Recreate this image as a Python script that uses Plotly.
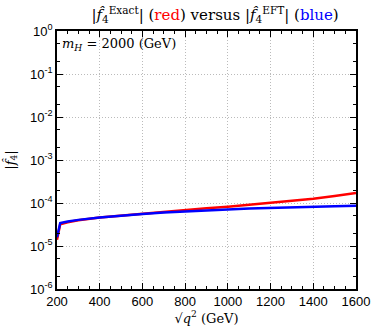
import plotly.graph_objects as go

q = [200, 215, 250, 300, 400, 500, 600, 700, 800, 900, 1000, 1100, 1200, 1300, 1400, 1500, 1600]
f4_exact = [1.4e-5, 3.2e-5, 3.55e-5, 3.95e-5, 4.6e-5, 5.1e-5, 5.6e-5, 6.2e-5, 6.8e-5, 7.5e-5,
            8.2e-5, 9.1e-5, 1.01e-4, 1.12e-4, 1.26e-4, 1.45e-4, 1.7e-4]
f4_eft = [1.6e-5, 3.4e-5, 3.7e-5, 4.05e-5, 4.6e-5, 5.1e-5, 5.55e-5, 6.0e-5, 6.4e-5, 6.8e-5,
          7.1e-5, 7.4e-5, 7.7e-5, 7.9e-5, 8.1e-5, 8.4e-5, 8.6e-5]
x_ticks = [200, 400, 600, 800, 1000, 1200, 1400, 1600]
y_ticks = [1e-6, 1e-5, 1e-4, 1e-3, 1e-2, 1e-1, 1]
y_ticktext = ["10<sup>-6</sup>", "10<sup>-5</sup>", "10<sup>-4</sup>", "10<sup>-3</sup>",
              "10<sup>-2</sup>", "10<sup>-1</sup>", "10<sup>0</sup>"]

serif = "DejaVu Serif"
sans = "Liberation Sans"

fig = go.Figure()
fig.add_trace(go.Scatter(x=q, y=f4_exact, mode="lines", line=dict(color="#ff0000", width=2.5), showlegend=False))
fig.add_trace(go.Scatter(x=q, y=f4_eft, mode="lines", line=dict(color="#0000ff", width=2.5), showlegend=False))

axis_common = dict(showline=True, linecolor="black", linewidth=1.5, mirror="allticks",
                   ticks="inside", ticklen=6, tickcolor="black", automargin=False,
                   showgrid=True, gridcolor="#bbbbbb", griddash="1px,2px", gridwidth=1,
                   zeroline=False, tickfont=dict(family=sans, size=13, color="black"))

fig.update_xaxes(range=[200, 1600], tickvals=x_ticks, **axis_common,
                 minor=dict(ticks="inside", ticklen=3, dtick=50, tick0=200, tickcolor="black", showgrid=False),
                 title=dict(text="√<i>q</i><sup>2</sup> (GeV)",
                            font=dict(family=serif, size=13, color="black"), standoff=1))
fig.update_yaxes(type="log", range=[-6, 0], tickvals=y_ticks, ticktext=y_ticktext, **axis_common,
                 minor=dict(ticks="inside", ticklen=3, tickcolor="black", showgrid=False),
                 title=dict(text="|<i>f̂</i><sub>4</sub>|", font=dict(family=serif, size=13, color="black"), standoff=12))

fig.update_layout(
    width=374, height=331,
    margin=dict(l=57, r=18, t=31, b=42, autoexpand=False),
    plot_bgcolor="white", paper_bgcolor="white",
    title=dict(text="|<i>f̂</i><sub>4</sub><sup>Exact</sup>| (<span style='color:#ff0000'>red</span>) versus "
                    "|<i>f̂</i><sub>4</sub><sup>EFT</sup>| (<span style='color:#0000ff'>blue</span>)",
               x=0.575, xanchor="center", y=0.955, yanchor="middle", automargin=False,
               font=dict(family=serif, size=15, color="black")),
    annotations=[dict(text="<i>m<sub>H</sub></i> = 2000 (GeV)", xref="paper", yref="paper",
                      x=0.01, y=0.99, xanchor="left", yanchor="top", showarrow=False,
                      font=dict(family=serif, size=13, color="black"))],
)

fig.write_html("out.html", config={"displayModeBar": False},
               post_script="document.body.style.margin='0px';document.body.style.overflow='hidden';")
